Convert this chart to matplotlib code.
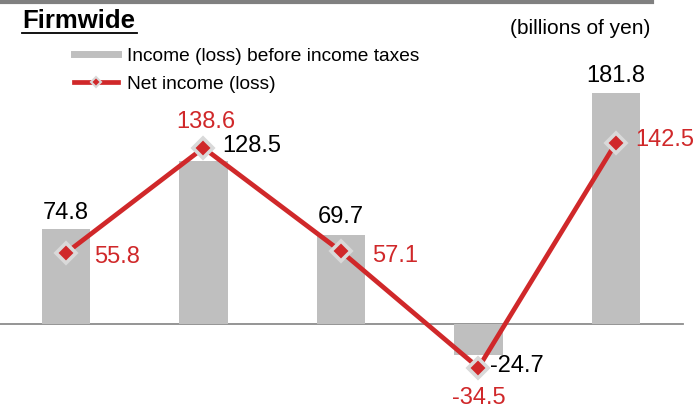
import matplotlib.pyplot as plt
from matplotlib.lines import Line2D
import numpy as np

plt.rcParams['font.family'] = ['Liberation Sans', 'DejaVu Sans']

# data (billions of yen)
pretax = [74.8, 128.5, 69.7, -24.7, 181.8]
net = [55.8, 138.6, 57.1, -34.5, 142.5]

# label placement: anchor ('bar' top or 'pt' = net marker), offset px, ha, va
pretax_lbl = [('bar', (0, 10), 'center', 'baseline'),
              ('pt', (19, 2), 'left', 'center'),
              ('bar', (0, 12), 'center', 'baseline'),
              ('pt', (12, 2), 'left', 'center'),
              ('bar', (0, 11), 'center', 'baseline')]
net_lbl = [((28, -4), 'left', 'center'),
           ((2, 20), 'center', 'baseline'),
           ((31, -5), 'left', 'center'),
           ((0, -19), 'center', 'top'),
           ((19, 3), 'left', 'center')]

BAR = '#bfbfbf'
RED = '#d0282a'

fig = plt.figure(figsize=(6.95, 4.09), dpi=100)
ax = fig.add_axes([0, 0, 1, 1])
x = np.arange(len(pretax))

ax.bar(x, pretax, width=0.35, color=BAR, zorder=1)
ax.plot(x, net, color=RED, lw=3.4, zorder=2, solid_capstyle='butt')
ax.plot(x, net, ls='none', marker='D', ms=10, mfc=RED, mec='#d9d9d9', mew=2.6, zorder=3)
ax.axhline(0, xmin=0, xmax=683 / 695, color='#8c8c8c', lw=1.3, zorder=0)

ax.set_xlim(-0.48, 4.575)
ax.set_ylim(-67, 255)
ax.axis('off')

for i, v in enumerate(pretax):
    anchor, off, ha, va = pretax_lbl[i]
    yv = v if anchor == 'bar' else net[i]
    ax.annotate(f'{v:.1f}', (x[i], yv), xytext=off, textcoords='offset pixels',
                ha=ha, va=va, fontsize=17, color='black')

for i, v in enumerate(net):
    off, ha, va = net_lbl[i]
    ax.annotate(f'{v:.1f}', (x[i], v), xytext=off, textcoords='offset pixels',
                ha=ha, va=va, fontsize=17, color=RED)

# top rule
fig.add_artist(Line2D([0, 652 / 695], [0.996, 0.996], color='#808080', lw=3,
                      transform=fig.transFigure))

fig.text(22 / 695, 1 - 21 / 409, 'Firmwide', fontsize=18.5, fontweight='bold',
         ha='left', va='center')
fig.add_artist(Line2D([22 / 695, 137 / 695], [1 - 33 / 409, 1 - 33 / 409],
                      color='black', lw=1.3, transform=fig.transFigure))
fig.text(650 / 695, 1 - 29 / 409, '(billions of yen)', fontsize=15,
         ha='right', va='center')

handles = [
    Line2D([], [], color=BAR, lw=5),
    Line2D([], [], color=RED, lw=3.4, marker='D', ms=5, mfc=RED, mec='#d9d9d9', mew=1.5),
]
ax.legend(handles, ['Income (loss) before income taxes', 'Net income (loss)'],
          loc='upper left', bbox_to_anchor=(66 / 695, 1 - 40 / 409), frameon=False,
          fontsize=13.8, handlelength=2.3, handletextpad=0.5, labelspacing=0.55,
          borderaxespad=0)

fig.savefig('out.png', dpi=100)
